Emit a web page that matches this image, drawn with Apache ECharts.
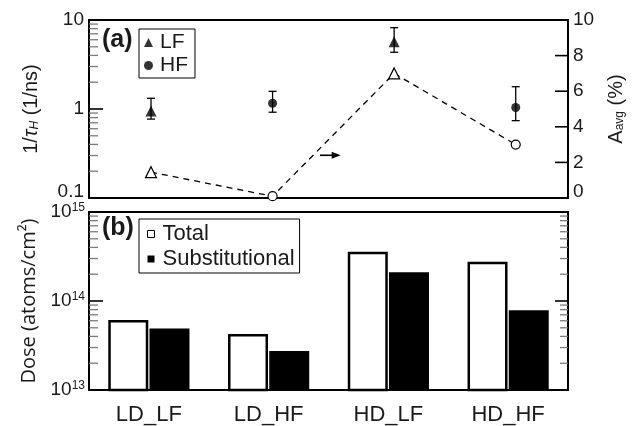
<!DOCTYPE html>
<html>
<head>
<meta charset="utf-8">
<script src="https://cdn.jsdelivr.net/npm/echarts@6/dist/echarts.min.js"></script>
<style>
  html, body { margin: 0; padding: 0; background: #fff; }
  #chart { width: 641px; height: 426px; }
</style>
</head>
<body>
<div id="chart"></div>
<script>
// (a) relaxation rate 1/tau_H and amplitude per sample
const samplePos = [1, 2, 3, 4]
const sampleType = ["LF", "HF", "LF", "HF"]
const rate = [0.95, 1.16, 5.7, 1.04]
const rateLo = [0.77, 0.92, 4.34, 0.74]
const rateHi = [1.32, 1.58, 8.2, 1.78]
const amplitude = [1.45, 0.1, 7.0, 3.0]

// (b) implanted dose
const categories = ["LD_LF", "LD_HF", "HD_LF", "HD_HF"]
const totalDose = [6.1e13, 4.26e13, 3.58e14, 2.76e14]
const substDose = [4.9e13, 2.74e13, 2.1e14, 7.87e13]

// tick values
const rateMajor = [1]
const rateMinor = [0.2, 0.3, 0.4, 0.5, 0.6, 0.7, 0.8, 0.9, 2, 3, 4, 5, 6, 7, 8, 9]
const ampTicks = [2, 4, 6, 8]
const doseMajor = [1e14]
const doseMinor = [2, 3, 4, 5, 6, 7, 8, 9].flatMap((m) => [m * 1e13, m * 1e14])

// arrow pointing to the right-hand axis (in panel (a) data units)
const arrowFrom = [2.39, 2.4]
const arrowTo = [2.56, 2.4]

const FONT = "Liberation Sans, Arial, sans-serif"
const INK = "#1a1a1a"

const chart = echarts.init(document.getElementById("chart"))

const topBox = { left: 89, top: 20, width: 479, height: 178 }
const botBox = { left: 89, top: 212, width: 479, height: 178 }

const symbolOf = (t) => (t === "LF" ? "triangle" : "circle")
const lowLabel = { lo: { fontFamily: FONT, fontSize: 19, color: INK, padding: [0, 0, 13, 0] } }

const option = {
  animation: false,
  textStyle: { fontFamily: FONT, color: INK },
  title: [
    { text: "(a)", left: 102, top: 28, padding: 0, textStyle: { fontFamily: FONT, fontSize: 25, fontWeight: "bold", color: INK } },
    { text: "(b)", left: 102, top: 216, padding: 0, textStyle: { fontFamily: FONT, fontSize: 25, fontWeight: "bold", color: INK } },
  ],
  legend: [
    {
      data: ["LF", "HF"],
      orient: "vertical",
      left: 139,
      top: 29,
      padding: [3, 7, 2, 5],
      itemGap: 2,
      itemWidth: 9,
      itemHeight: 9,
      borderColor: "#000",
      borderWidth: 1,
      borderRadius: 0,
      textStyle: { fontFamily: FONT, fontSize: 21, color: INK, padding: [0, 0, 0, 2] },
    },
    {
      data: [
        { name: "Total", itemStyle: { borderWidth: 1 } },
        { name: "Substitutional" },
      ],
      orient: "vertical",
      left: 139,
      top: 219,
      padding: [4, 5, 3, 8],
      itemGap: 3,
      itemWidth: 7,
      itemHeight: 7,
      icon: "rect",
      borderColor: "#000",
      borderWidth: 1,
      borderRadius: 0,
      textStyle: { fontFamily: FONT, fontSize: 22, color: INK, padding: [0, 0, 0, 3] },
    },
  ],
  grid: [
    Object.assign({ show: true, borderColor: "#000", borderWidth: 2, backgroundColor: "transparent" }, topBox),
    Object.assign({ show: true, borderColor: "#000", borderWidth: 2, backgroundColor: "transparent" }, botBox),
  ],
  xAxis: [
    { type: "value", gridIndex: 0, min: 0.49, max: 4.43, show: false },
    {
      type: "category",
      gridIndex: 1,
      data: categories,
      axisLine: { show: true, lineStyle: { color: "#000", width: 2 } },
      axisTick: { show: false },
      axisLabel: { fontFamily: FONT, fontSize: 22, color: INK, margin: 14 },
    },
  ],
  yAxis: [
    {
      type: "log",
      gridIndex: 0,
      position: "left",
      min: 0.1,
      max: 10,
      logBase: 10,
      axisLine: { show: false },
      axisTick: { show: false },
      splitLine: { show: false },
      axisLabel: {
        fontFamily: FONT,
        fontSize: 19,
        color: INK,
        margin: 5,
        formatter: (v) => {
          const s = String(Number(v.toPrecision(3)))
          return v < 0.5 ? "{lo|" + s + "}" : s
        },
        rich: lowLabel,
      },
      name: "1/{t|τ}{s|H} (1/ns)",
      nameLocation: "middle",
      nameRotate: 90,
      nameGap: 48,
      nameTextStyle: {
        fontFamily: FONT,
        fontSize: 20,
        color: INK,
        rich: {
          t: { fontFamily: FONT, fontSize: 20, fontStyle: "italic", color: INK },
          s: { fontFamily: FONT, fontSize: 12, fontStyle: "italic", color: INK, verticalAlign: "bottom", padding: [8, 0, 0, 0] },
        },
      },
    },
    {
      type: "value",
      gridIndex: 0,
      position: "right",
      min: 0,
      max: 10,
      interval: 2,
      axisLine: { show: false },
      axisTick: { show: false },
      splitLine: { show: false },
      axisLabel: {
        fontFamily: FONT,
        fontSize: 19,
        color: INK,
        margin: 5,
        formatter: (v) => (v === 0 ? "{lo|0}" : String(v)),
        rich: lowLabel,
      },
      name: "A{s|avg} (%)",
      nameLocation: "middle",
      nameRotate: 90,
      nameGap: 38,
      nameTextStyle: {
        fontFamily: FONT,
        fontSize: 20,
        color: INK,
        rich: {
          s: { fontFamily: FONT, fontSize: 12, color: INK, verticalAlign: "bottom", padding: [8, 0, 0, 0] },
        },
      },
    },
    {
      type: "log",
      gridIndex: 1,
      position: "left",
      min: 1e13,
      max: 1e15,
      logBase: 10,
      axisLine: { show: false },
      axisTick: { show: false },
      splitLine: { show: false },
      axisLabel: {
        fontFamily: FONT,
        fontSize: 19,
        color: INK,
        margin: 4,
        formatter: (v) => "10{e|" + Math.round(Math.log10(v)) + "}",
        rich: { e: { fontFamily: FONT, fontSize: 12, color: INK, verticalAlign: "top", padding: [0, 0, 8, 0] } },
      },
      name: "Dose (atoms/cm²)",
      nameLocation: "middle",
      nameRotate: 90,
      nameGap: 50,
      nameTextStyle: { fontFamily: "Open Sans, Liberation Sans, sans-serif", fontSize: 20, color: INK },
    },
  ],
  series: [
    {
      name: "LF",
      type: "scatter",
      xAxisIndex: 0,
      yAxisIndex: 0,
      symbol: "triangle",
      symbolSize: 11,
      itemStyle: { color: "#000" },
      data: samplePos.map((x, i) => [x, rate[i]]).filter((d, i) => sampleType[i] === "LF"),
      z: 5,
    },
    {
      name: "HF",
      type: "scatter",
      xAxisIndex: 0,
      yAxisIndex: 0,
      symbol: "circle",
      symbolSize: 9,
      itemStyle: { color: "#000" },
      data: samplePos.map((x, i) => [x, rate[i]]).filter((d, i) => sampleType[i] === "HF"),
      z: 5,
    },
    {
      name: "error",
      type: "custom",
      xAxisIndex: 0,
      yAxisIndex: 0,
      encode: { x: 0, y: [1, 2] },
      data: samplePos.map((x, i) => [x, rateLo[i], rateHi[i]]),
      renderItem: (params, api) => {
        const top = api.coord([api.value(0), api.value(2)])
        const bot = api.coord([api.value(0), api.value(1)])
        const cap = 4
        const style = { stroke: "#000", lineWidth: 1.3 }
        return {
          type: "group",
          children: [
            { type: "line", shape: { x1: top[0], y1: top[1], x2: bot[0], y2: bot[1] }, style: style },
            { type: "line", shape: { x1: top[0] - cap, y1: top[1], x2: top[0] + cap, y2: top[1] }, style: style },
            { type: "line", shape: { x1: bot[0] - cap, y1: bot[1], x2: bot[0] + cap, y2: bot[1] }, style: style },
          ],
        }
      },
      z: 4,
    },
    {
      name: "Aavg",
      type: "line",
      xAxisIndex: 0,
      yAxisIndex: 1,
      lineStyle: { color: "#000", width: 1.3, type: [6, 5] },
      itemStyle: { color: "#fff", borderColor: "#000", borderWidth: 1.2 },
      showAllSymbol: true,
      data: samplePos.map((x, i) => ({
        value: [x, amplitude[i]],
        symbol: symbolOf(sampleType[i]),
        symbolSize: sampleType[i] === "LF" ? 11 : 9,
      })),
      z: 3,
    },
    {
      name: "Total",
      type: "bar",
      xAxisIndex: 1,
      yAxisIndex: 2,
      barWidth: 40,
      barGap: "3%",
      itemStyle: { color: "#fff", borderColor: "#000", borderWidth: 2.5 },
      data: totalDose,
    },
    {
      name: "Substitutional",
      type: "bar",
      xAxisIndex: 1,
      yAxisIndex: 2,
      barWidth: 40,
      barGap: "3%",
      itemStyle: { color: "#000" },
      data: substDose,
    },
  ],
}

chart.setOption(option)

// Inward tick marks, placed with the axes' own scales
const ticks = (finder, xRef, box, side, values, len, color, width) =>
  values
    .map((v) => {
      const pt = chart.convertToPixel(finder, [xRef, v])
      const y = pt ? pt[1] : NaN
      const x0 = side === "left" ? box.left : box.left + box.width
      const x1 = side === "left" ? x0 + len : x0 - len
      return { type: "line", shape: { x1: x0, y1: y, x2: x1, y2: y }, style: { stroke: color, lineWidth: width }, silent: true, z: 10 }
    })
    .filter((el) => isFinite(el.shape.y1))

const rateAxis = { xAxisIndex: 0, yAxisIndex: 0 }
const ampAxis = { xAxisIndex: 0, yAxisIndex: 1 }
const doseAxis = { xAxisIndex: 1, yAxisIndex: 2 }

// Arrow marking that the dashed line belongs to the right axis
const p0 = chart.convertToPixel(ampAxis, arrowFrom)
const p1 = chart.convertToPixel(ampAxis, arrowTo)

chart.setOption({
  graphic: [
    ...ticks(rateAxis, 1, topBox, "left", rateMinor, 9, "#7a7a7a", 1.3),
    ...ticks(rateAxis, 1, topBox, "left", rateMajor, 14, "#000", 1.6),
    ...ticks(ampAxis, 1, topBox, "right", ampTicks, 13, "#000", 1.6),
    ...ticks(doseAxis, categories[0], botBox, "left", doseMinor, 9, "#7a7a7a", 1.3),
    ...ticks(doseAxis, categories[0], botBox, "left", doseMajor, 14, "#000", 1.6),
    ...ticks(doseAxis, categories[0], botBox, "right", doseMinor, 8, "#7a7a7a", 1.3),
    ...ticks(doseAxis, categories[0], botBox, "right", doseMajor, 13, "#000", 1.6),
    { type: "line", shape: { x1: p0[0], y1: p0[1], x2: p1[0] - 6, y2: p1[1] }, style: { stroke: "#000", lineWidth: 1.6 }, z: 10 },
    { type: "polygon", shape: { points: [[p1[0], p1[1]], [p1[0] - 9, p1[1] - 3.5], [p1[0] - 9, p1[1] + 3.5]] }, style: { fill: "#000" }, z: 10 },
  ],
})
</script>
</body>
</html>
